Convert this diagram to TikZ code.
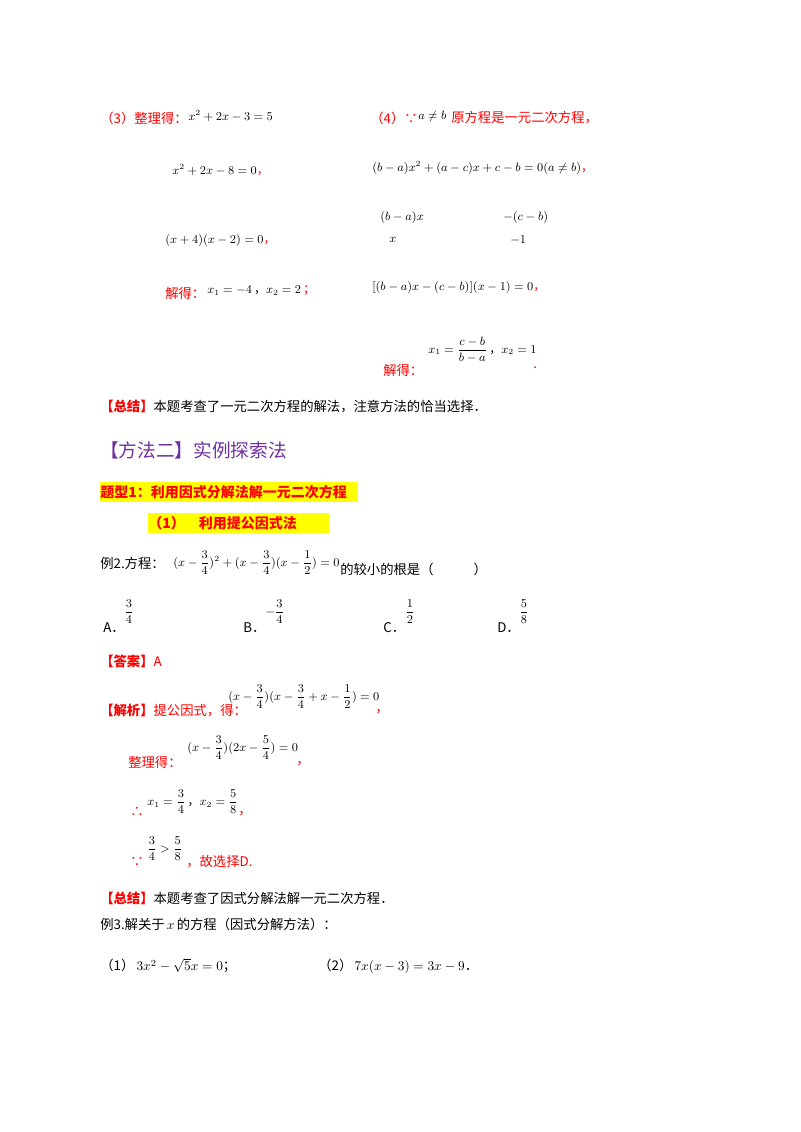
\documentclass[tikz,border=0pt]{standalone}
\usepackage{amsmath}
\usepackage{fontspec}
\newfontfamily\cjk{Noto Sans CJK SC}
\definecolor{myred}{RGB}{255,0,0}
\definecolor{mypurple}{RGB}{112,48,160}
\definecolor{hl}{RGB}{255,255,0}
\begin{document}
\begin{tikzpicture}[x=0.75pt,y=-0.75pt,
  t/.style={anchor=west,inner sep=0pt,font=\cjk\fontsize{10}{12}\selectfont},
  r/.style={t,text=myred},
  m/.style={anchor=west,inner sep=0pt,font=\fontsize{9}{11}\selectfont}]
\useasboundingbox[fill=white] (0,0) rectangle (800,1132);
% (3)
\node[r] (a1) at (100,118) {（3）整理得：};
\node[m] (a2) at (188,116) {$x^2+2x-3=5$};
\node[m] (a3) at (172,170) {$x^2+2x-8=0$\textcolor{myred}{\cjk，}};
\node[m] (a4) at (165,240) {$(x+4)(x-2)=0$\textcolor{myred}{\cjk，}};
\node[r] (a5) at (165,293) {解得：};
\node[m] (a6) at (207,291) {$x_1=-4$\,{\cjk，}$x_2=2$\,\textcolor{myred}{\cjk；}};
% (4)
\node[r] (b1) at (370,118) {（4）∵};
\node[m] (b2) at (418,116) {$a\ne b$};
\node[r] (b3) at (451,118) {原方程是一元二次方程，};
\node[m] (b4) at (372,168) {$(b-a)x^2+(a-c)x+c-b=0(a\ne b)$\textcolor{myred}{\cjk，}};
\node[m] (b5) at (380,217) {$(b-a)x$};
\node[m] (b6) at (503,217) {$-(c-b)$};
\node[m] (b7) at (389,240) {$x$};
\node[m] (b8) at (510,240) {$-1$};
\node[m] (b9) at (372,287) {$[(b-a)x-(c-b)](x-1)=0$\textcolor{myred}{\cjk，}};
\node[m] (b10) at (428,350) {$x_1=\dfrac{c-b}{b-a}$\,{\cjk，}$x_2=1$};
\node[r] (b11) at (383,370) {解得：};
\node[r] (b12) at (533,368) {.};
% summary
\node[t] (s1) at (100,406) {\textcolor{myred}{\textbf{【总结】}}本题考查了一元二次方程的解法，注意方法的恰当选择．};
\node[t,text=mypurple,font=\cjk\fontsize{14}{16}\selectfont] (h1) at (100,450) {【方法二】实例探索法};
\fill[hl] (100,482) rectangle (358,502);
\node[r,font=\cjk\bfseries\fontsize{10.5}{12}\selectfont] (h2) at (100,492) {题型1：利用因式分解法解一元二次方程};
\fill[hl] (148,513) rectangle (329,533);
\node[r,font=\cjk\bfseries\fontsize{10.5}{12}\selectfont] (h3) at (148,523) {（1）\quad 利用提公因式法};
% example 2
\node[t] (e1) at (100,563) {例2.方程：};
\node[m] (e2) at (173,563) {$(x-\dfrac34)^2+(x-\dfrac34)(x-\dfrac12)=0$};
\node[t] (e3) at (340,569) {的较小的根是（\qquad\quad）};
\node[t] (o1) at (103,628) {A．};
\node[m] (o1m) at (124,612) {$\dfrac34$};
\node[t] (o2) at (243,628) {B．};
\node[m] (o2m) at (265,612) {$-\dfrac34$};
\node[t] (o3) at (383,628) {C．};
\node[m] (o3m) at (405,612) {$\dfrac12$};
\node[t] (o4) at (497,628) {D．};
\node[m] (o4m) at (519,612) {$\dfrac58$};
\node[r] (ans) at (100,661) {\textbf{【答案】}A};
\node[r] (j1) at (100,710) {\textbf{【解析】}提公因式，得：};
\node[m] (j2) at (228,697) {$(x-\dfrac34)(x-\dfrac34+x-\dfrac12)=0$};
\node[r] (j3) at (375,712) {，};
\node[r] (k1) at (128,762) {整理得：};
\node[m] (k2) at (187,748) {$(x-\dfrac34)(2x-\dfrac54)=0$};
\node[r] (k3) at (296,764) {，};
\node[r] (l1) at (130,812) {∴};
\node[m] (l2) at (147,802) {$x_1=\dfrac34$\,{\cjk，}$x_2=\dfrac58$};
\node[r] (l3) at (238,814) {，};
\node[r] (n1) at (130,862) {∵};
\node[m] (n2) at (147,849) {$\dfrac34>\dfrac58$};
\node[r] (n3) at (186,862) {，故选择D.};
\node[t] (s2) at (100,898) {\textcolor{myred}{\textbf{【总结】}}本题考查了因式分解法解一元二次方程．};
\node[t] (x1) at (100,924) {例3.解关于\,$x$\,的方程（因式分解方法）：};
\node[t] (x2) at (100,966) {（1）\,$3x^2-\sqrt5x=0$；};
\node[t] (x3) at (318,966) {（2）\,$7x(x-3)=3x-9$．};
\end{tikzpicture}
\end{document}
